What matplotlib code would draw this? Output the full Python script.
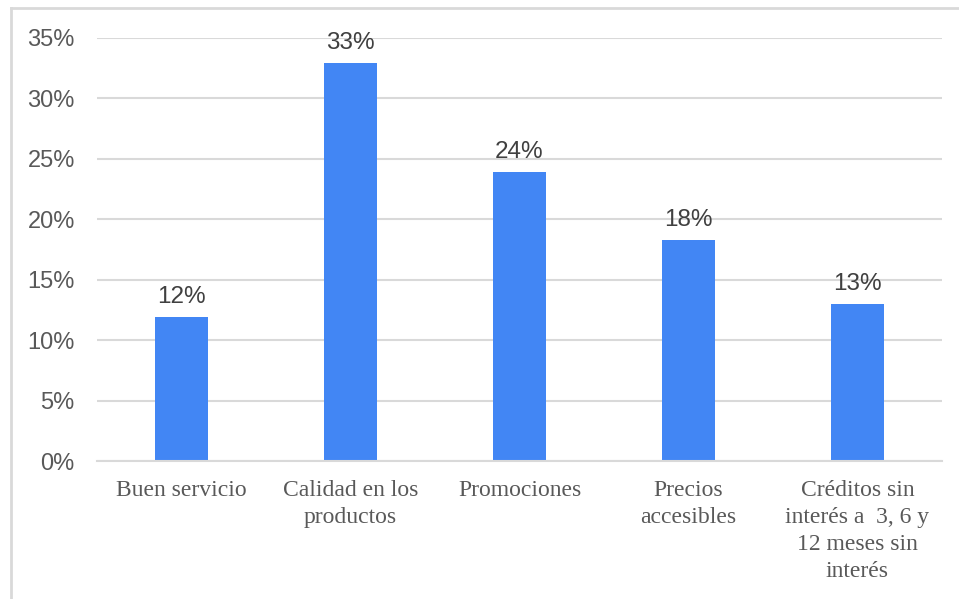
import matplotlib
matplotlib.use("Agg")
import matplotlib.pyplot as plt
from matplotlib.lines import Line2D

categories = ["Buen servicio", "Calidad en los\nproductos", "Promociones",
              "Precios\naccesibles", "Créditos sin\ninterés a  3, 6 y\n12 meses sin\ninterés"]
values = [11.9, 32.9, 23.9, 18.3, 13.0]
labels = ["12%", "33%", "24%", "18%", "13%"]
yticks = [0, 5, 10, 15, 20, 25, 30, 35]

fig = plt.figure(figsize=(9.59, 5.99), dpi=100)
ax = fig.add_axes([97/959, 1-461/599, (942-97)/959, (461-38)/599])

x = list(range(len(categories)))
bars = ax.bar(x, values, width=0.31, color="#4286f4", zorder=3)
for xi, v, lab in zip(x, values, labels):
    ax.annotate(lab, (xi, v), xytext=(0, 6.5), textcoords="offset points",
                ha="center", va="bottom", fontsize=17.5, color="#404040",
                family="Liberation Sans")

ax.set_xlim(-0.5, len(categories)-0.5)
ax.set_ylim(0, 35)
ax.set_yticks(yticks)
ax.set_yticklabels([f"{t}%" for t in yticks], family="Liberation Sans",
                   fontsize=17, color="#595959")
ax.set_xticks(x)
ax.set_xticklabels(categories, family="Liberation Serif", fontsize=17,
                   color="#595959", linespacing=1.36)
ax.tick_params(axis="both", length=0)
ax.tick_params(axis="y", pad=16)
ax.tick_params(axis="x", pad=14)
ax.grid(axis="y", color="#d9d9d9", linewidth=1.5, zorder=0)
for s in ["top", "right", "left"]:
    ax.spines[s].set_visible(False)
ax.spines["bottom"].set_color("#d9d9d9")
ax.spines["bottom"].set_linewidth(1.5)
ax.spines["bottom"].set_zorder(4)

# outer chart frame (cropped)
fig.add_artist(Line2D([10.5/959, 10.5/959], [0, 1-8/599], color="#d9d9d9", linewidth=2))
fig.add_artist(Line2D([10.5/959, 1], [1-8/599, 1-8/599], color="#d9d9d9", linewidth=2))

fig.savefig("out.png", dpi=100)
